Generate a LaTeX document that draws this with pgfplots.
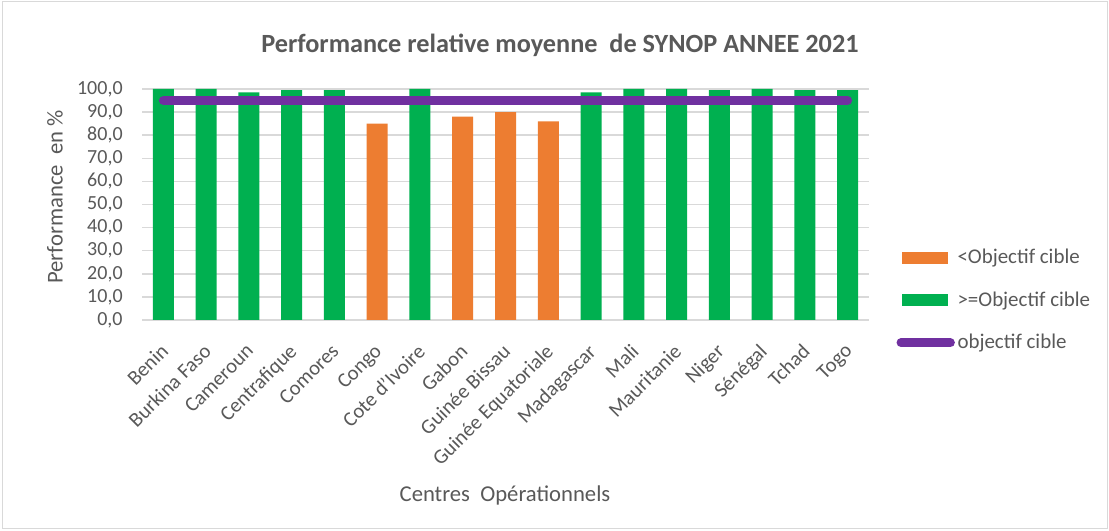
\documentclass[border=0pt]{standalone}
\usepackage{fontspec}
\setmainfont{Carlito}
\usepackage{pgfplots}
\pgfplotsset{compat=1.18}
\definecolor{cgreen}{HTML}{00B050}
\definecolor{corange}{HTML}{ED7D31}
\definecolor{cpurple}{HTML}{7030A0}
\definecolor{ctext}{HTML}{595959}
\definecolor{cgrid}{HTML}{D9D9D9}
\begin{document}
\begin{tikzpicture}[x=0.75pt,y=0.75pt]
\fill[white] (0,0) rectangle (1109,531);
\draw[cgrid, line width=0.75pt] (2,2) rectangle (1107,529);
\begin{axis}[
  at={(106.5pt,158.25pt)}, anchor=south west,
  scale only axis, width=545.25pt, height=173.25pt,
  xmin=-0.5, xmax=16.5, ymin=0, ymax=100,
  ytick={0,10,...,100},
  xtick={0,...,16},
  xticklabels={Benin,Burkina Faso,Cameroun,Centrafique,Comores,Congo,Cote d'Ivoire,Gabon,Guinée Bissau,Guinée Equatoriale,Madagascar,Mali,Mauritanie,Niger,Sénégal,Tchad,Togo},
  xticklabel style={xshift=-3pt, yshift=-14pt, rotate=45, anchor=north east, font=\fontsize{15.5}{17}\selectfont, text=ctext, inner sep=2pt},
  yticklabel style={font=\fontsize{15}{17}\selectfont, text=ctext, xshift=-11pt},
  /pgf/number format/.cd, fixed, fixed zerofill, precision=1, use comma, assume math mode=true, /pgfplots/.cd,
  ymajorgrids, grid style={cgrid, line width=1.1pt},
  axis x line*=bottom, axis y line*=left,
  y axis line style={draw=none},
  x axis line style={cgrid, line width=1.1pt},
  major tick length=0pt,
  clip=false,
  legend style={draw=none, fill=none, at={(1.032,0.33)}, anchor=north west,
    font=\fontsize{15.7}{18}\selectfont, text=ctext, row sep=15.5pt,
    cells={anchor=west}},
  legend cell align=left,
]
\addplot[ybar, bar width=15.75pt, bar shift=0pt, fill=corange, draw=none,
  legend image code/.code={\fill[corange] (0pt,-4.5pt) rectangle (34pt,4.5pt);}]
  coordinates {(5,85) (7,88) (8,90) (9,86)};
\addlegendentry{<Objectif cible}
\addplot[ybar, bar width=15.75pt, bar shift=0pt, fill=cgreen, draw=none,
  legend image code/.code={\fill[cgreen] (0pt,-4.5pt) rectangle (34pt,4.5pt);}]
  coordinates {(0,100) (1,100) (2,98.5) (3,99.5) (4,99.5) (6,100) (10,98.5) (11,100) (12,100) (13,99.5) (14,100) (15,99.5) (16,99.5)};
\addlegendentry{>=Objectif cible}
\addplot[cpurple, line width=6.75pt, line cap=round,
  legend image code/.code={\draw[cpurple, line width=6.75pt, line cap=round] (-1pt,0pt) -- (36pt,0pt);}]
  coordinates {(0,95) (16,95)};
\addlegendentry{objectif cible}
\end{axis}
\node[font=\bfseries\fontsize{19.7}{22}\selectfont, text=ctext] at (560,486) {Performance relative moyenne\ \ de SYNOP ANNEE 2021};
\node[rotate=90, font=\fontsize{17}{20}\selectfont, text=ctext] at (55,334) {Performance\ \ en \%};
\node[font=\fontsize{17}{20}\selectfont, text=ctext] at (505,36) {Centres\ \ Opérationnels};
\end{tikzpicture}
\end{document}
